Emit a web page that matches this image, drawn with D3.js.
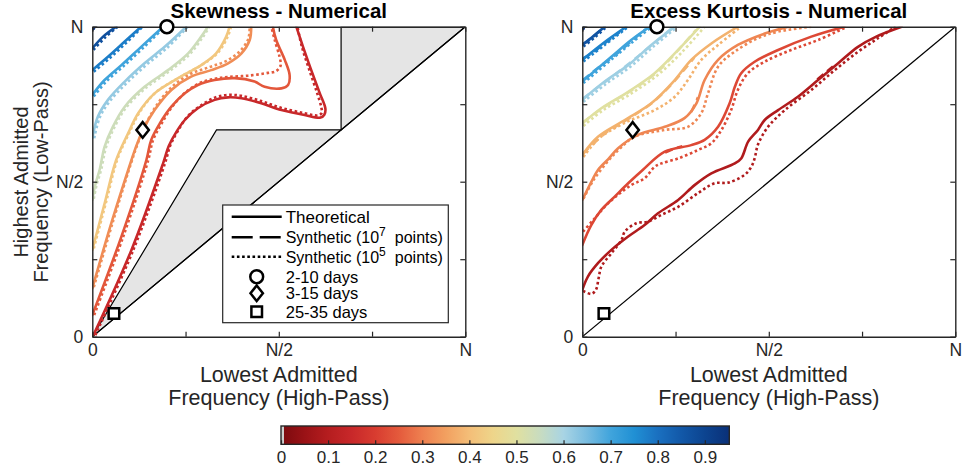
<!DOCTYPE html>
<html>
<head>
<meta charset="utf-8">
<script src="https://cdn.jsdelivr.net/npm/d3@7"></script>
<style>
  body { margin: 0; background: #fff; }
  svg { display: block; font-family: "Liberation Sans", Arial, Helvetica, sans-serif; }
</style>
</head>
<body>
<svg id="chart" width="963" height="472"></svg>
<script>
// ---- colour map (value -> colour), shared by both panels and the colour bar
const cmapStops  = [0, 0.05, 0.1, 0.15, 0.2, 0.25, 0.3, 0.35, 0.4, 0.45, 0.5, 0.55, 0.6, 0.65, 0.7, 0.75, 0.8, 0.85, 0.9, 0.952];
const cmapColors = ["#7a0a0e", "#9a1216", "#b51d1f", "#c8282a", "#d83c30", "#e45a3c", "#ee8050", "#f2a060", "#f4be78", "#eed58a",
                    "#e0e0a0", "#c8dcc0", "#a8d4e4", "#78bce0", "#40a4dc", "#2090d4", "#1a70c0", "#1258a8", "#0c4490", "#0a3078"];
const cbarTicks = [0, 0.1, 0.2, 0.3, 0.4, 0.5, 0.6, 0.7, 0.8, 0.9];
const cbarTickLabels = ["0", "0.1", "0.2", "0.3", "0.4", "0.5", "0.6", "0.7", "0.8", "0.9"];

// ---- axis ticks (fractions of N)
const axisTicks = [0, 0.25, 0.5, 0.75, 1];
const axisTickLabels = ["0", "", "N/2", "", "N"];

// ---- Skewness: contour levels, theoretical curves and 10^5-point synthetic curves
const skewLevels = [0.95, 0.87, 0.78, 0.70, 0.62, 0.54, 0.42, 0.32, 0.245, 0.15];
const skewTheory = [
  [[0,0.992],[0.008,1]],
  [[0,0.930],[0.029,0.968],[0.064,1]],
  [[0,0.860],[0.042,0.903],[0.087,0.952],[0.131,1]],
  [[0,0.780],[0.033,0.828],[0.078,0.876],[0.131,0.935],[0.190,1]],
  [[0,0.640],[0.015,0.710],[0.042,0.764],[0.087,0.823],[0.140,0.882],[0.194,0.935],[0.252,1]],
  [[0,0.441],[0.008,0.490],[0.020,0.540],[0.033,0.613],[0.055,0.677],[0.087,0.742],[0.140,0.806],[0.203,0.860],[0.257,0.914],[0.292,0.968],[0.310,1]],
  [[0,0.280],[0.032,0.425],[0.064,0.570],[0.096,0.656],[0.123,0.721],[0.167,0.785],[0.230,0.834],[0.292,0.876],[0.332,0.914],[0.359,0.968],[0.368,1]],
  [[0,0.156],[0.051,0.366],[0.105,0.570],[0.114,0.602],[0.136,0.667],[0.167,0.731],[0.212,0.796],[0.265,0.839],[0.319,0.860],[0.364,0.882],[0.400,0.914],[0.422,0.957],[0.426,1]],
  [[0,0.070],[0.078,0.323],[0.145,0.570],[0.158,0.635],[0.181,0.688],[0.212,0.742],[0.248,0.785],[0.283,0.812],[0.328,0.828],[0.382,0.834],[0.435,0.823],[0.462,0.806],[0.507,0.801],[0.525,0.812],[0.529,0.844],[0.516,0.893],[0.493,0.957],[0.484,1]],
  [[0.003,0.005],[0.105,0.280],[0.190,0.560],[0.205,0.615],[0.225,0.660],[0.248,0.699],[0.283,0.737],[0.328,0.764],[0.364,0.772],[0.400,0.769],[0.453,0.753],[0.507,0.731],[0.569,0.715],[0.612,0.707],[0.622,0.716],[0.625,0.735],[0.610,0.785],[0.587,0.860],[0.565,0.935],[0.547,1]]
];
const skewSample = [
  [[0,0.990],[0.010,1]],
  [[0.003,0.925],[0.034,0.965],[0.068,1]],
  [[0.004,0.855],[0.046,0.898],[0.091,0.948],[0.135,1]],
  [[0.004,0.775],[0.037,0.823],[0.082,0.871],[0.135,0.930],[0.194,1]],
  [[0.005,0.640],[0.020,0.707],[0.047,0.760],[0.092,0.818],[0.145,0.877],[0.199,0.930],[0.256,1]],
  [[0.004,0.445],[0.012,0.492],[0.024,0.540],[0.037,0.612],[0.059,0.675],[0.090,0.738],[0.143,0.802],[0.206,0.856],[0.260,0.910],[0.296,0.966],[0.314,1]],
  [[0.004,0.285],[0.036,0.430],[0.068,0.575],[0.100,0.660],[0.127,0.724],[0.170,0.788],[0.233,0.836],[0.295,0.878],[0.336,0.915],[0.363,0.968],[0.372,1]],
  [[0.004,0.160],[0.055,0.370],[0.108,0.575],[0.118,0.610],[0.138,0.672],[0.167,0.737],[0.210,0.802],[0.262,0.847],[0.315,0.870],[0.360,0.890],[0.395,0.920],[0.418,0.960],[0.422,1]],
  [[0.005,0.070],[0.083,0.323],[0.150,0.570],[0.163,0.635],[0.186,0.688],[0.216,0.745],[0.252,0.790],[0.287,0.818],[0.328,0.832],[0.364,0.838],[0.417,0.842],[0.471,0.851],[0.493,0.857],[0.505,0.875],[0.502,0.903],[0.489,0.957],[0.480,1]],
  [[0.008,0.005],[0.110,0.280],[0.195,0.560],[0.210,0.620],[0.230,0.665],[0.255,0.710],[0.290,0.745],[0.330,0.772],[0.365,0.780],[0.400,0.777],[0.453,0.760],[0.507,0.738],[0.565,0.722],[0.605,0.714],[0.615,0.722],[0.614,0.740],[0.603,0.785],[0.582,0.860],[0.562,0.935],[0.550,1]]
];
// regions where skewness is not defined
const skewGrayA = [[0,0],[0.333,0.667],[0.667,0.667]];
const skewGrayB = [[0.667,0.667],[0.667,1],[1,1]];

// ---- Excess kurtosis: contour levels, theoretical curves, 10^7- and 10^5-point synthetic curves
const kurtLevels = [0.95, 0.86, 0.77, 0.70, 0.61, 0.50, 0.38, 0.31, 0.22, 0.09];
const kurtTheory = [
  [[0,0.993],[0.006,1]],
  [[0,0.941],[0.030,0.970],[0.060,1]],
  [[0,0.893],[0.055,0.946],[0.118,1]],
  [[0,0.823],[0.078,0.903],[0.131,0.957],[0.181,1]],
  [[0,0.764],[0.060,0.823],[0.123,0.876],[0.185,0.941],[0.248,1]],
  [[0,0.688],[0.051,0.737],[0.123,0.790],[0.194,0.850],[0.257,0.925],[0.315,1]],
  [[0,0.586],[0.042,0.645],[0.114,0.699],[0.185,0.753],[0.248,0.828],[0.292,0.893],[0.346,0.946],[0.417,1]],
  [[0,0.441],[0.027,0.506],[0.042,0.538],[0.069,0.572],[0.096,0.608],[0.149,0.651],[0.221,0.677],[0.274,0.705],[0.306,0.753],[0.328,0.828],[0.364,0.893],[0.417,0.941],[0.489,0.978],[0.552,1]],
  [[0,0.296],[0.024,0.360],[0.051,0.409],[0.087,0.452],[0.123,0.495],[0.162,0.538],[0.221,0.597],[0.292,0.618],[0.328,0.635],[0.364,0.677],[0.395,0.753],[0.409,0.806],[0.426,0.850],[0.462,0.887],[0.525,0.925],[0.614,0.968],[0.703,1]],
  [[0,0.151],[0.015,0.194],[0.042,0.237],[0.078,0.280],[0.123,0.323],[0.167,0.360],[0.203,0.398],[0.257,0.441],[0.301,0.489],[0.346,0.527],[0.409,0.559],[0.426,0.575],[0.445,0.630],[0.471,0.667],[0.489,0.699],[0.525,0.731],[0.578,0.774],[0.632,0.828],[0.686,0.882],[0.739,0.935],[0.788,0.968],[0.856,1]]
];
const kurtDense = [
  [[0,0.995],[0.007,1]],
  [[0.002,0.944],[0.020,0.958],[0.036,0.975],[0.058,0.996]],
  [[0.002,0.898],[0.030,0.918],[0.062,0.948],[0.100,0.982]],
  [[0.002,0.828],[0.045,0.870],[0.090,0.910],[0.140,0.962],[0.170,0.992]],
  [[0.002,0.768],[0.040,0.803],[0.090,0.848],[0.150,0.905],[0.200,0.955],[0.240,0.995]],
  [[0.002,0.692],[0.060,0.742],[0.130,0.793],[0.200,0.853],[0.250,0.915],[0.305,0.990]],
  [[0.002,0.590],[0.060,0.655],[0.120,0.700],[0.190,0.757],[0.240,0.815],[0.300,0.900]],
  [[0.292,0.725],[0.300,0.745],[0.310,0.772]],
  [[0.222,0.594],[0.245,0.606],[0.268,0.614]],
  [[0.630,0.830],[0.650,0.850],[0.672,0.872]]
];
const kurtSample = [
  [[0,0.990],[0.009,1]],
  [[0.003,0.936],[0.034,0.966],[0.065,1]],
  [[0.003,0.888],[0.060,0.941],[0.123,1]],
  [[0.003,0.818],[0.082,0.898],[0.135,0.951],[0.187,1]],
  [[0.003,0.758],[0.064,0.816],[0.128,0.870],[0.190,0.935],[0.255,1]],
  [[0.003,0.680],[0.055,0.730],[0.128,0.782],[0.200,0.842],[0.265,0.915],[0.328,1]],
  [[0.003,0.580],[0.045,0.640],[0.114,0.690],[0.194,0.731],[0.248,0.774],[0.283,0.828],[0.319,0.893],[0.364,0.941],[0.426,1]],
  [[0.003,0.445],[0.030,0.505],[0.070,0.568],[0.100,0.606],[0.140,0.645],[0.221,0.667],[0.283,0.677],[0.319,0.721],[0.337,0.785],[0.364,0.871],[0.408,0.919],[0.471,0.963],[0.525,0.984],[0.614,1]],
  [[0.002,0.339],[0.029,0.376],[0.069,0.430],[0.131,0.489],[0.167,0.511],[0.194,0.548],[0.212,0.559],[0.257,0.575],[0.310,0.602],[0.346,0.624],[0.373,0.667],[0.399,0.731],[0.417,0.796],[0.444,0.850],[0.489,0.887],[0.560,0.925],[0.632,0.957],[0.710,1]],
  [[0.002,0.148],[0.024,0.138],[0.036,0.150],[0.044,0.190],[0.051,0.226],[0.078,0.269],[0.105,0.312],[0.114,0.339],[0.145,0.366],[0.176,0.371],[0.212,0.393],[0.257,0.419],[0.310,0.463],[0.355,0.495],[0.391,0.497],[0.435,0.522],[0.453,0.548],[0.462,0.575],[0.471,0.620],[0.498,0.677],[0.543,0.731],[0.614,0.796],[0.677,0.860],[0.739,0.919],[0.793,0.963],[0.840,1]]
];
const kurtDiagonal = [[0,0],[1,1]];

// ---- period-band markers (same in both panels)
const markerNames  = ["2-10 days", "3-15 days", "25-35 days"];
const markerShapes = ["circle", "diamond", "square"];
const markerX = [0.200, 0.135, 0.058];
const markerY = [1.000, 0.667, 0.075];

// ---- legend entries
const legendLineLabels = ["Theoretical", "Synthetic (10", "Synthetic (10"];
const legendLineExp    = ["", "7", "5"];

// ---------------------------------------------------------------------------
const svg = d3.select("#chart");
const panelTop = 26.7, panelW = 373, panelH = 310;
const axisColor = "#262626";

const colour = d3.scaleLinear().domain(cmapStops).range(cmapColors).interpolate(d3.interpolateRgb).clamp(true);
const x = d3.scaleLinear().domain([0, 1]).range([0, panelW]);
const y = d3.scaleLinear().domain([0, 1]).range([panelH, 0]);
const line = d3.line().x(d => x(d[0])).y(d => y(d[1])).curve(d3.curveCatmullRom.alpha(0.5));
const straight = d3.line().x(d => x(d[0])).y(d => y(d[1]));

function markerPath(shape) {
  if (shape === "circle") return d3.symbol(d3.symbolCircle, 130)();
  if (shape === "square") return "M-5.3,-5.3H5.3V5.3H-5.3Z";
  return "M0,-7.8L6.2,0L0,7.8L-6.2,0Z";
}

function drawCurves(plot, cls, data, levels, dash) {
  plot.selectAll("path." + cls).data(data).join("path")
    .attr("class", cls)
    .attr("d", line)
    .attr("fill", "none")
    .attr("stroke", (d, i) => colour(levels[i]))
    .attr("stroke-width", 2.6)
    .attr("stroke-linejoin", "round")
    .attr("stroke-linecap", dash ? "butt" : "round")
    .attr("stroke-dasharray", dash);
}

function drawPanel(x0, id, title, levels, theory, dense, sample, extras) {
  const g = svg.append("g").attr("transform", `translate(${x0},${panelTop})`);
  g.append("clipPath").attr("id", id).append("rect").attr("width", panelW).attr("height", panelH);
  const plot = g.append("g").attr("clip-path", `url(#${id})`);

  extras(plot);

  drawCurves(plot, "theory", theory, levels, null);           // theoretical
  if (dense) drawCurves(plot, "dense", dense, levels, "8 5");  // synthetic, 10^7 points
  drawCurves(plot, "sample", sample, levels, "2.6 2.6");      // synthetic, 10^5 points

  // axes (ticks pointing inwards, box on)
  const fmt = (d, i) => axisTickLabels[i];
  const bottom = g.append("g").attr("transform", `translate(0,${panelH})`)
    .call(d3.axisBottom(x).tickValues(axisTicks).tickFormat(fmt).tickSizeInner(-5).tickSizeOuter(0).tickPadding(7));
  const left = g.append("g")
    .call(d3.axisLeft(y).tickValues(axisTicks).tickFormat(fmt).tickSizeInner(-5).tickSizeOuter(0).tickPadding(9));
  const top = g.append("g")
    .call(d3.axisTop(x).tickValues(axisTicks).tickFormat("").tickSizeInner(-5).tickSizeOuter(0));
  const right = g.append("g").attr("transform", `translate(${panelW},0)`)
    .call(d3.axisRight(y).tickValues(axisTicks).tickFormat("").tickSizeInner(-5).tickSizeOuter(0));
  [bottom, left, top, right].forEach(a => {
    a.select(".domain").attr("stroke", axisColor).attr("stroke-width", 1.4);
    a.selectAll(".tick line").attr("stroke", axisColor).attr("stroke-width", 1.2);
    a.selectAll(".tick text").attr("fill", "#262626").style("font-size", "17.5px")
      .style("font-family", "'Liberation Sans', Arial, sans-serif");
  });

  // period-band markers
  g.selectAll("path.marker").data(markerShapes).join("path")
    .attr("class", "marker")
    .attr("transform", (d, i) => `translate(${x(markerX[i])},${y(markerY[i])})`)
    .attr("d", d => markerPath(d))
    .attr("fill", "#fff")
    .attr("stroke", "#000")
    .attr("stroke-width", 2.5);

  // title
  g.append("text").attr("x", panelW / 2).attr("y", -8.5)
    .attr("text-anchor", "middle").attr("font-weight", "bold").attr("font-size", 20.5)
    .attr("fill", "#000").text(title);

  // x axis title
  const xt = g.append("text").attr("text-anchor", "middle").attr("font-size", 21.5).attr("fill", "#262626");
  xt.append("tspan").attr("x", panelW / 2).attr("y", panelH + 45).text("Lowest Admitted");
  xt.append("tspan").attr("x", panelW / 2).attr("y", panelH + 68).text("Frequency (High-Pass)");
  return g;
}

// Skewness panel with the shaded undefined regions
drawPanel(92.3, "clipSkew", "Skewness - Numerical", skewLevels, skewTheory, null, skewSample, plot => {
  [skewGrayA, skewGrayB].forEach(poly => {
    plot.append("path").attr("d", straight(poly) + "Z")
      .attr("fill", "#e5e5e5").attr("stroke", "#000").attr("stroke-width", 1.2).attr("stroke-linejoin", "miter");
  });
  plot.append("path").attr("d", straight(kurtDiagonal)).attr("stroke", "#000").attr("stroke-width", 1.2);
});

// Excess kurtosis panel with the diagonal
drawPanel(582.3, "clipKurt", "Excess Kurtosis - Numerical", kurtLevels, kurtTheory, kurtDense, kurtSample, plot => {
  plot.append("path").attr("d", straight(kurtDiagonal)).attr("stroke", "#000").attr("stroke-width", 1.2);
});

// y axis title (left panel only)
const yt = svg.append("text").attr("transform", "translate(0,182) rotate(-90)")
  .attr("text-anchor", "middle").attr("font-size", 20).attr("fill", "#262626");
yt.append("tspan").attr("x", 0).attr("y", 27.5).text("Highest Admitted");
yt.append("tspan").attr("x", 0).attr("y", 47.5).text("Frequency (Low-Pass)");

// ---- legend in the skewness panel
const lg = svg.append("g").attr("transform", "translate(222.7,205)");
lg.append("rect").attr("width", 225.6).attr("height", 117.7).attr("fill", "#fff")
  .attr("stroke", "#262626").attr("stroke-width", 1.2);
const rowY = [11.7, 32.3, 51.7, 71.7, 88.3, 106.7];
const dashes = [null, "21 7", "2.6 2.6"];
legendLineLabels.forEach((lab, i) => {
  lg.append("line").attr("x1", 9).attr("x2", 59).attr("y1", rowY[i]).attr("y2", rowY[i])
    .attr("stroke", "#000").attr("stroke-width", 2.6).attr("stroke-dasharray", dashes[i]);
  const t = lg.append("text").attr("x", 63).attr("y", rowY[i] + 6)
    .attr("font-size", i === 0 ? 17 : 16).attr("fill", "#000").text(lab);
  if (legendLineExp[i]) {
    t.append("tspan").attr("dy", -7).attr("font-size", 12).text(legendLineExp[i]);
    t.append("tspan").attr("dy", 7).attr("dx", 9).attr("font-size", 16).text("points)");
  }
});
markerNames.forEach((name, i) => {
  lg.append("path").attr("transform", `translate(34,${rowY[3 + i]})`)
    .attr("d", markerPath(markerShapes[i])).attr("fill", "#fff").attr("stroke", "#000").attr("stroke-width", 2.5);
  lg.append("text").attr("x", 63).attr("y", rowY[3 + i] + 6).attr("font-size", 16.5).attr("fill", "#000").text(name);
});

// ---- colour bar
const cbX0 = 281, cbX1 = 729.3, cbY = 426, cbH = 18.3;
const cb = d3.scaleLinear().domain([0, cmapStops[cmapStops.length - 1]]).range([cbX0, cbX1]);
const defs = svg.append("defs");
const grad = defs.append("linearGradient").attr("id", "cbGrad")
  .attr("gradientUnits", "userSpaceOnUse").attr("x1", cbX0).attr("x2", cbX1).attr("y1", 0).attr("y2", 0);
grad.selectAll("stop").data(cmapStops).join("stop")
  .attr("offset", d => (cb(d) - cbX0) / (cbX1 - cbX0))
  .attr("stop-color", (d, i) => cmapColors[i]);
svg.append("rect").attr("x", cbX0).attr("y", cbY).attr("width", cbX1 - cbX0).attr("height", cbH).attr("fill", "url(#cbGrad)");
svg.append("rect").attr("x", cbX0).attr("y", cbY).attr("width", 3).attr("height", cbH).attr("fill", "#cfcfcf");
svg.append("rect").attr("x", cbX0).attr("y", cbY).attr("width", cbX1 - cbX0).attr("height", cbH)
  .attr("fill", "none").attr("stroke", "#262626").attr("stroke-width", 1.4);
const cbAxis = svg.append("g").attr("transform", `translate(0,${cbY + cbH})`)
  .call(d3.axisBottom(cb).tickValues(cbarTicks).tickFormat((d, i) => cbarTickLabels[i]).tickSizeInner(-4).tickSizeOuter(0).tickPadding(7));
cbAxis.select(".domain").remove();
cbAxis.selectAll(".tick line").attr("stroke", "#262626").attr("stroke-width", 1.2);
cbAxis.selectAll(".tick text").attr("fill", "#262626").style("font-size", "17px")
  .style("font-family", "'Liberation Sans', Arial, sans-serif");
</script>
</body>
</html>
